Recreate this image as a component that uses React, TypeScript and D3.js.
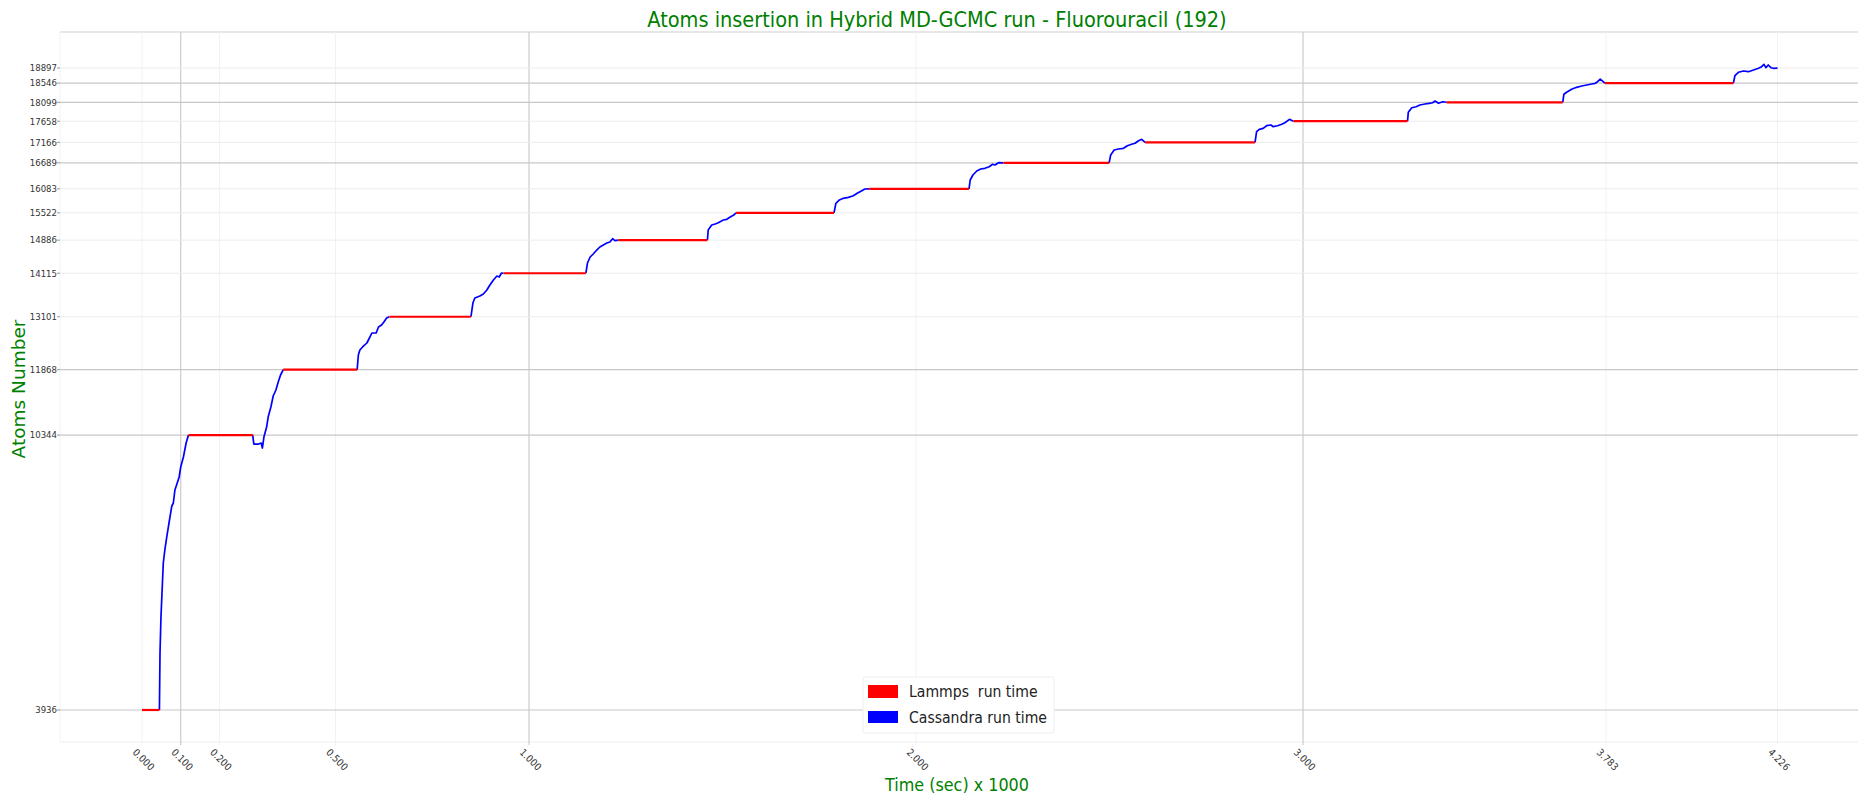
import React from 'react';
import * as d3 from 'd3';

// Lammps (MD) runs: [start, end, atoms] — flat plateaus
const lammpsRuns: [number, number, number][] = [
   [0.0, 0.045, 3936],
   [0.12, 0.287, 10344],
   [0.365, 0.556, 11868],
   [0.639, 0.85, 13101],
   [0.934, 1.147, 14115],
   [1.231, 1.461, 14886],
   [1.535, 1.788, 15522],
   [1.879, 2.137, 16083],
   [2.226, 2.499, 16689],
   [2.592, 2.876, 17166],
   [2.975, 3.27, 17658],
   [3.371, 3.671, 18099],
   [3.78, 4.112, 18546],
];

// Cassandra (GCMC) runs: [time, atoms]
const cassandraRuns: [number, number][][] = [
   [[0.045, 3936], [0.0465, 5264], [0.049, 6103], [0.052, 6733], [0.055, 7362], [0.059, 7665], [0.064, 7968], [0.071, 8364], [0.077, 8690], [0.081, 8760], [0.085, 9063], [0.091, 9226], [0.096, 9366], [0.1, 9599], [0.107, 9832], [0.114, 10158], [0.12, 10344]],
   [[0.286, 10344], [0.289, 10134], [0.301, 10134], [0.308, 10158], [0.311, 10041], [0.315, 10297], [0.322, 10531], [0.326, 10764], [0.333, 10997], [0.339, 11254], [0.346, 11394], [0.352, 11580], [0.358, 11743], [0.365, 11868]],
   [[0.556, 11868], [0.559, 12209], [0.563, 12326], [0.57, 12396], [0.581, 12489], [0.589, 12629], [0.594, 12722], [0.605, 12722], [0.611, 12862], [0.619, 12908], [0.625, 12978], [0.632, 13072], [0.639, 13101]],
   [[0.85, 13101], [0.855, 13421], [0.86, 13538], [0.873, 13584], [0.882, 13631], [0.891, 13724], [0.899, 13841], [0.908, 13957], [0.917, 14050], [0.923, 14027], [0.929, 14120], [0.934, 14115]],
   [[1.147, 14115], [1.151, 14353], [1.158, 14493], [1.166, 14563], [1.175, 14656], [1.183, 14726], [1.192, 14773], [1.201, 14819], [1.209, 14843], [1.216, 14920], [1.222, 14873], [1.231, 14886]],
   [[1.461, 14886], [1.463, 15122], [1.472, 15239], [1.481, 15262], [1.489, 15293], [1.502, 15355], [1.511, 15372], [1.521, 15432], [1.528, 15465], [1.535, 15522]],
   [[1.788, 15522], [1.793, 15745], [1.802, 15822], [1.812, 15861], [1.825, 15884], [1.838, 15922], [1.848, 15978], [1.86, 16038], [1.868, 16078], [1.879, 16083]],
   [[2.137, 16083], [2.14, 16288], [2.147, 16404], [2.157, 16497], [2.167, 16544], [2.178, 16560], [2.189, 16598], [2.198, 16654], [2.204, 16637], [2.213, 16691], [2.226, 16689]],
   [[2.499, 16689], [2.503, 16870], [2.512, 16987], [2.523, 17010], [2.536, 17026], [2.546, 17087], [2.557, 17120], [2.566, 17143], [2.574, 17197], [2.583, 17236], [2.592, 17166]],
   [[2.876, 17166], [2.88, 17413], [2.887, 17469], [2.897, 17492], [2.906, 17553], [2.917, 17569], [2.923, 17530], [2.934, 17553], [2.945, 17586], [2.953, 17623], [2.965, 17702], [2.975, 17658]],
   [[3.27, 17658], [3.272, 17865], [3.281, 17972], [3.292, 17996], [3.302, 18036], [3.315, 18059], [3.326, 18075], [3.335, 18089], [3.341, 18129], [3.35, 18075], [3.361, 18112], [3.371, 18099]],
   [[3.671, 18099], [3.674, 18285], [3.681, 18332], [3.694, 18401], [3.707, 18448], [3.72, 18478], [3.733, 18502], [3.746, 18525], [3.755, 18541], [3.761, 18579], [3.768, 18641], [3.78, 18546]],
   [[4.112, 18546], [4.116, 18718], [4.125, 18798], [4.138, 18828], [4.151, 18812], [4.164, 18851], [4.177, 18891], [4.185, 18928], [4.191, 18984], [4.196, 18905], [4.202, 18968], [4.209, 18905], [4.215, 18891], [4.226, 18897]],
];

const xTicks = [0, 0.1, 0.2, 0.5, 1, 2, 3, 3.783, 4.226];
const xStrong = [0.1, 1, 3];
const yTicks = [3936, 10344, 11868, 13101, 14115, 14886, 15522, 16083, 16689, 17166, 17658, 18099, 18546, 18897];
const yStrong = [3936, 10344, 11868, 16689, 18099, 18546];

const W = 1858;
const H = 799;
const left = 60;
const right = 1858;
const top = 32;
const bottom = 742;

const green = '#008000';
const condensed = '"DejaVu Sans Condensed", "DejaVu Sans", sans-serif';

const App: React.FC = () => {
   const x = d3.scaleLinear().domain([-0.2119, 4.434]).range([left, right]);
   const y = d3.scaleLinear().domain([3190, 19737]).range([bottom, top]);
   const line = d3.line<[number, number]>()
      .x((d) => x(d[0]))
      .y((d) => y(d[1]));

   return (
      <div style={{ position: 'fixed', left: 0, top: 0, width: W, height: H, background: '#fff' }}>
         <svg width={W} height={H} viewBox={`0 0 ${W} ${H}`}>
            <rect x={0} y={0} width={W} height={H} fill="#fff" />

            {/* plot frame */}
            <line x1={left} x2={right} y1={top} y2={top} stroke="#cfcfcf" strokeWidth={1} />
            <line x1={left} x2={right} y1={bottom} y2={bottom} stroke="#eeeeee" strokeWidth={1} />
            <line x1={left} x2={left} y1={top} y2={bottom} stroke="#f3f3f3" strokeWidth={1} />

            {/* vertical grid */}
            {xTicks.map((t) => {
               const strong = xStrong.includes(t);
               return (
                  <line key={'gx' + t} x1={x(t)} x2={x(t)} y1={top} y2={bottom + 3}
                     stroke={strong ? '#cccccc' : '#f2f2f2'} strokeWidth={strong ? 1.2 : 1} />
               );
            })}

            {/* horizontal grid */}
            {yTicks.map((t) => {
               const strong = yStrong.includes(t);
               return (
                  <g key={'gy' + t}>
                     <line x1={left} x2={right} y1={y(t)} y2={y(t)}
                        stroke={strong ? '#c8c8c8' : '#ececec'} strokeWidth={strong ? 1.2 : 1} />
                     <line x1={left - 3} x2={left} y1={y(t)} y2={y(t)} stroke="#999" strokeWidth={1} />
                     <text x={left - 3} y={y(t)} dy="0.35em" textAnchor="end"
                        fontFamily={condensed} fontSize={9.5} fill="#333">{t}</text>
                  </g>
               );
            })}

            {/* x tick labels, rotated */}
            {xTicks.map((t) => (
               <text key={'xt' + t} transform={`translate(${x(t) - 10},${bottom + 11}) rotate(45)`}
                  fontFamily={condensed} fontSize={10} fill="#333">{t.toFixed(3)}</text>
            ))}

            {/* series */}
            {cassandraRuns.map((run, i) => (
               <path key={'c' + i} d={line(run) ?? ''} fill="none" stroke="#0000ff"
                  strokeWidth={1.7} strokeLinejoin="round" />
            ))}
            {lammpsRuns.map((r, i) => (
               <line key={'l' + i} x1={x(r[0])} x2={x(r[1])} y1={y(r[2])} y2={y(r[2])}
                  stroke="#ff0000" strokeWidth={2.2} />
            ))}

            {/* titles */}
            <text x={937} y={27} textAnchor="middle" fontFamily={condensed} fontSize={21.5} fill={green}>
               Atoms insertion in Hybrid MD-GCMC run - Fluorouracil (192)
            </text>
            <text transform={`translate(25,389) rotate(-90)`} textAnchor="middle"
               fontFamily='"DejaVu Sans", sans-serif' fontSize={18.5} fill={green}>
               Atoms Number
            </text>
            <text x={957} y={791} textAnchor="middle" fontFamily={condensed} fontSize={17.8} fill={green}>
               Time (sec) x 1000
            </text>

            {/* legend */}
            <g>
               <rect x={863} y={677} width={191} height={56} fill="#fff" stroke="#eeeeee" strokeWidth={1} rx={2} />
               <rect x={868} y={685} width={30} height={13} fill="#ff0000" />
               <rect x={868} y={711} width={30} height={12} fill="#0000ff" />
               <text x={909} y={697} fontFamily={condensed} fontSize={15.6} fill="#222" style={{ whiteSpace: 'pre' }}>
                  {'Lammps  run time'}
               </text>
               <text x={909} y={723} fontFamily={condensed} fontSize={15.6} fill="#222">
                  Cassandra run time
               </text>
            </g>
         </svg>
      </div>
   );
};

export default App;
